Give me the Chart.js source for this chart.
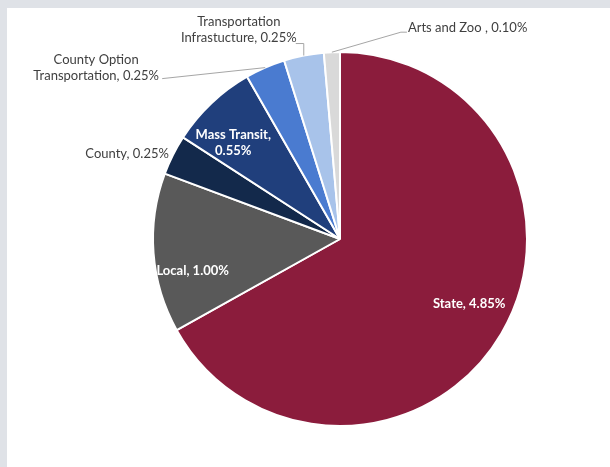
<!DOCTYPE html>
<html>
<head>
<meta charset="utf-8">
<script src="https://cdn.jsdelivr.net/npm/chart.js@4"></script>
<style>
  html, body { margin: 0; padding: 0; background: #dfe2e7; }
  #wrap { width: 610px; height: 467px; position: relative; }
</style>
</head>
<body>
<div id="wrap"><canvas id="rateChart" width="610" height="467"></canvas></div>
<script>
// Tax rate components (percent)
const categories = ['State', 'Local', 'County', 'Mass Transit', 'County Option Transportation', 'Transportation Infrastucture', 'Arts and Zoo '];
const rates = [4.85, 1.00, 0.25, 0.55, 0.25, 0.25, 0.10];
const sliceColors = ['#8b1c3c', '#595959', '#13294b', '#203f7c', '#4a7bd0', '#a8c3ea', '#d9d9d9'];

// where each text goes: inside the slice, or outside with a leader line
// breakAt: word count kept on the first line
const placement = [
  { inside: true, r: 0.77, dx: 5, dy: -8 },
  { inside: true, r: 0.79, dx: 0, dy: 21 },
  { inside: false, align: 'right', dx: -4, dy: -1, leader: null },
  { inside: true, r: 0.76, dx: -9, dy: 7, breakName: true },
  { inside: false, align: 'center', dx: -169, dy: 0, breakAt: 2, leader: [[-103, 11]] },
  { inside: false, align: 'center', dx: -65, dy: -25.5, breakAt: 1, leader: [[0, -12], [-8, -12]] },
  { inside: false, align: 'left', dx: 76, dy: -24.5, leader: [[69, -20], [75, -20]] }
];

function labelLines(i) {
  const value = rates[i].toFixed(2) + '%';
  const name = categories[i];
  const p = placement[i];
  if (p.breakName) return [name + ',', value];
  if (p.breakAt) {
    const words = name.split(' ');
    return [words.slice(0, p.breakAt).join(' '), words.slice(p.breakAt).join(' ') + ', ' + value];
  }
  return [name + ', ' + value];
}

const panelBackground = {
  id: 'panelBackground',
  beforeDraw(chart) {
    const ctx = chart.ctx;
    ctx.save();
    ctx.fillStyle = '#dfe2e7';
    ctx.fillRect(0, 0, chart.width, chart.height);
    ctx.fillStyle = '#ffffff';
    ctx.fillRect(7, 8, chart.width - 7, chart.height - 8);
    ctx.restore();
  }
};

const sliceLabels = {
  id: 'sliceLabels',
  afterDatasetsDraw(chart) {
    const ctx = chart.ctx;
    const arcs = chart.getDatasetMeta(0).data;
    const lineH = 16.5;
    ctx.save();
    ctx.textBaseline = 'middle';
    arcs.forEach((arc, i) => {
      const p = placement[i];
      const { x, y, startAngle, endAngle, outerRadius } = arc.getProps(['x', 'y', 'startAngle', 'endAngle', 'outerRadius'], true);
      const mid = (startAngle + endAngle) / 2;
      const lines = labelLines(i);
      if (p.inside) {
        const cx = x + Math.cos(mid) * outerRadius * p.r + p.dx;
        const cy = y + Math.sin(mid) * outerRadius * p.r + p.dy;
        ctx.font = 'bold 13px Lato, "Open Sans", sans-serif';
        ctx.fillStyle = '#ffffff';
        ctx.textAlign = 'center';
        lines.forEach((t, k) => {
          ctx.fillText(t, cx, cy + (k - (lines.length - 1) / 2) * lineH);
        });
        return;
      }
      const ax = x + Math.cos(mid) * outerRadius;
      const ay = y + Math.sin(mid) * outerRadius;
      if (p.leader) {
        ctx.strokeStyle = '#a6a6a6';
        ctx.lineWidth = 1;
        ctx.beginPath();
        ctx.moveTo(ax, ay);
        p.leader.forEach(([lx, ly]) => ctx.lineTo(ax + lx, ay + ly));
        ctx.stroke();
      }
      ctx.font = '13px Lato, "Open Sans", sans-serif';
      ctx.fillStyle = '#404040';
      ctx.textAlign = p.align;
      const tx = ax + p.dx;
      const ty = ay + p.dy;
      lines.forEach((t, k) => {
        ctx.fillText(t, tx, ty + (k - (lines.length - 1) / 2) * lineH);
      });
    });
    ctx.restore();
  }
};

new Chart(document.getElementById('rateChart'), {
  type: 'pie',
  data: {
    labels: categories,
    datasets: [{
      data: rates,
      backgroundColor: sliceColors,
      borderColor: '#ffffff',
      borderWidth: 2
    }]
  },
  options: {
    responsive: false,
    animation: false,
    layout: { padding: { top: 51, bottom: 40, left: 152, right: 82 } },
    plugins: {
      legend: { display: false },
      tooltip: { enabled: false }
    }
  },
  plugins: [panelBackground, sliceLabels]
});
</script>
</body>
</html>
